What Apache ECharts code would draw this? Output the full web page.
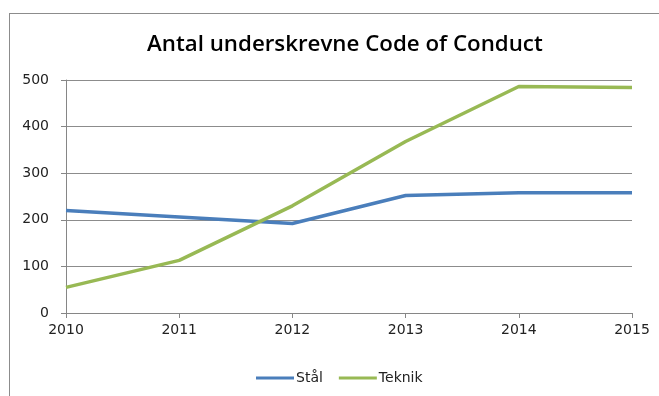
<!DOCTYPE html>
<html><head><meta charset="utf-8">
<script src="https://cdn.jsdelivr.net/npm/echarts@6/dist/echarts.min.js"></script>
<style>html,body{margin:0;padding:0;background:#fff}#c{width:659px;height:396px;position:relative}
#frame{position:absolute;left:9px;top:13px;width:700px;height:400px;border:1px solid #8c8c8c;box-sizing:border-box;pointer-events:none}</style>
</head><body><div id="c"></div><div id="frame"></div>
<script>
const years = ['2010','2011','2012','2013','2014','2015'];
const stal = [220, 206, 192, 252, 258, 258];
const teknik = [55, 113, 230, 368, 486, 484];
const yTicks = [0, 100, 200, 300, 400, 500];

const chart = echarts.init(document.getElementById('c'), null, {renderer:'canvas'});
const font = '"DejaVu Sans", sans-serif';
chart.setOption({
  animation:false,
  title:{text:'Antal underskrevne Code of Conduct', left:142, top:29,
    textStyle:{fontFamily:'"Open Sans", sans-serif', fontSize:22.3, fontWeight:'600', color:'#000'}},
  grid:{left:66, right:27, top:80, bottom:83},
  legend:{top:366, left:251, itemWidth:38, itemHeight:3, itemGap:16,
    icon:'rect',
    textStyle:{fontFamily:font, fontSize:14, color:'#222', padding:[0,0,0,-3]},
    data:['Stål','Teknik']},
  xAxis:{type:'category', data:years, boundaryGap:false,
    axisLine:{lineStyle:{color:'#868686'}},
    axisTick:{show:true, length:5, lineStyle:{color:'#868686'}},
    axisLabel:{fontFamily:font, fontSize:14, color:'#222', margin:10}},
  yAxis:{type:'value', min:yTicks[0], max:yTicks[yTicks.length-1], interval:100,
    axisLine:{show:true, lineStyle:{color:'#868686'}},
    axisTick:{show:true, length:5, lineStyle:{color:'#868686'}},
    splitLine:{lineStyle:{color:'#8c8c8c'}},
    axisLabel:{fontFamily:font, fontSize:14, color:'#222', margin:17}},
  series:[
    {name:'Stål', type:'line', data:stal, showSymbol:false, symbol:'none',
      lineStyle:{color:'#4a7ebb', width:3.5}, itemStyle:{color:'#4a7ebb'}},
    {name:'Teknik', type:'line', data:teknik, showSymbol:false, symbol:'none',
      lineStyle:{color:'#98b954', width:3.5}, itemStyle:{color:'#98b954'}}
  ]
});
</script></body></html>
